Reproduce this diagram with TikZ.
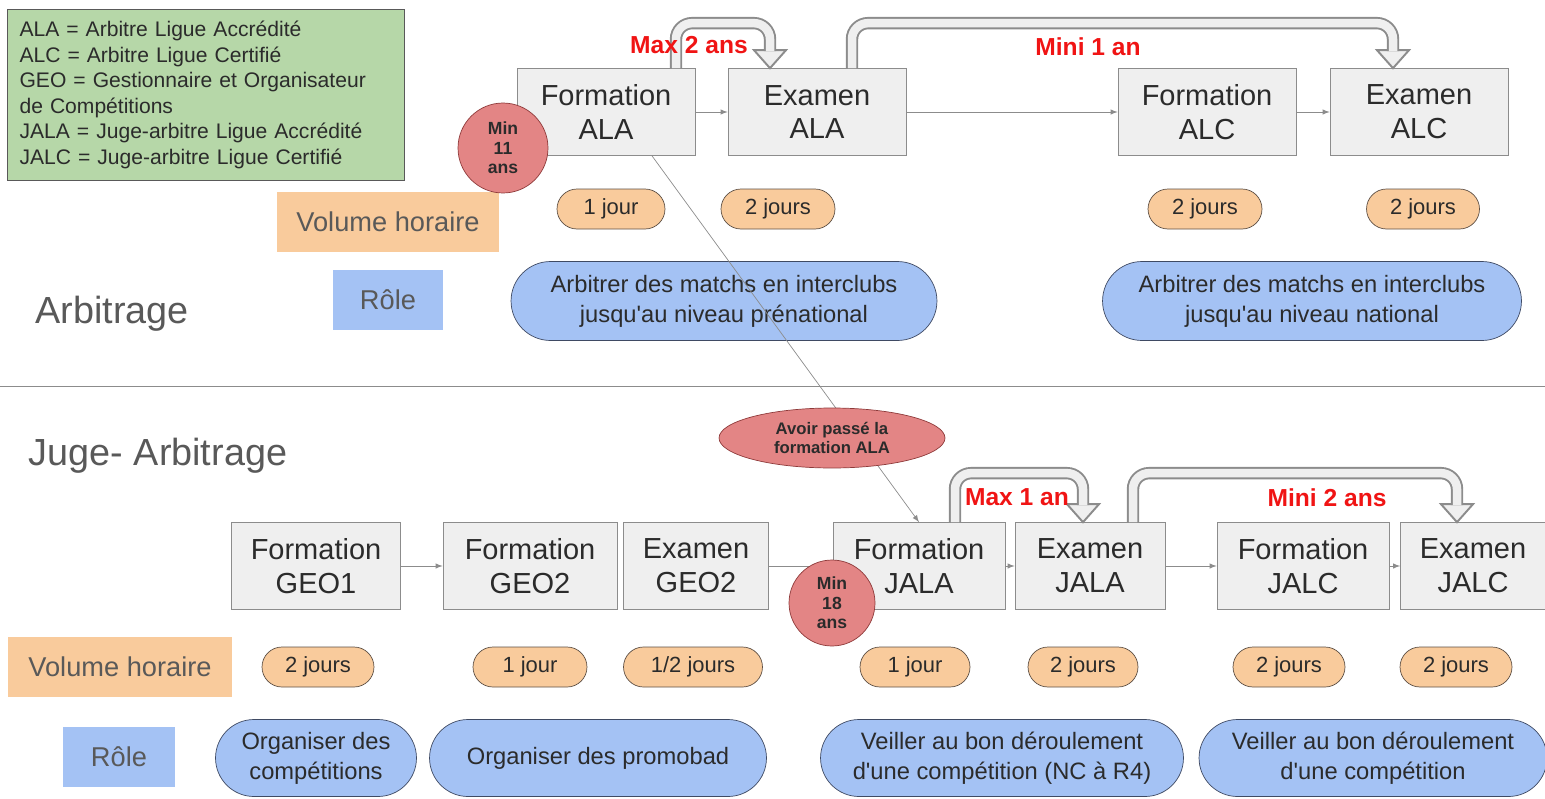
\documentclass[tikz,border=0pt]{standalone}
\usepackage{fontspec}
\setmainfont{Liberation Sans}
\usetikzlibrary{shapes.misc, shapes.geometric, calc}

\definecolor{boxgray}{HTML}{EFEFEF}
\definecolor{linegray}{HTML}{8C8C8C}
\definecolor{textdark}{HTML}{2B2B2B}
\definecolor{labelgray}{HTML}{595959}
\definecolor{keygreen}{HTML}{B6D7A8}
\definecolor{peach}{HTML}{F9CB9C}
\definecolor{peachline}{HTML}{5E5045}
\definecolor{roleblue}{HTML}{A4C2F4}
\definecolor{roleline}{HTML}{3F4A63}
\definecolor{agepink}{HTML}{E38585}
\definecolor{ageline}{HTML}{8E3A3A}
\definecolor{limitred}{HTML}{F01414}

\begin{document}
\begin{tikzpicture}[> = latex, x = 0.02cm, y = -0.02cm,
	stage/.style = {draw = linegray, fill = boxgray, align = center, inner sep = 0pt, minimum height = 1.74cm, text = textdark, font = \fontsize{16.5}{19.3}\selectfont},
	hours/.style = {rounded rectangle, draw = peachline, fill = peach, inner sep = 0pt, minimum width = 2.2cm, minimum height = 0.8cm, text = textdark, font = \fontsize{12.5}{15}\selectfont},
	role/.style = {rounded rectangle, draw = roleline, fill = roleblue, align = center, inner sep = 0pt, minimum height = 1.58cm, text = textdark, font = \fontsize{13.5}{17}\selectfont},
	tag/.style = {inner sep = 0pt, minimum height = 1.2cm, text = labelgray, font = \fontsize{15.5}{18}\selectfont},
	age/.style = {circle, draw = ageline, fill = agepink, align = center, inner sep = 0pt, minimum size = 1.76cm, text = textdark, font = \bfseries\fontsize{10}{11}\selectfont},
	limit/.style = {text = limitred, font = \bfseries\fontsize{14}{16}\selectfont},
	section/.style = {text = labelgray, font = \fontsize{21.5}{24}\selectfont},
	link/.style = {->, draw = linegray},
	hollow/.style = {draw = linegray, double = boxgray, line width = 1.1pt, double distance = 0.17cm, rounded corners = 0.32cm},
	hollowtip/.style = {draw = linegray, fill = boxgray, line width = 1.1pt, line join = miter}]

	\useasboundingbox (0, 0) rectangle (1545, 798);

	% Legend

	\node [draw = labelgray, fill = keygreen, minimum width = 7.94cm, minimum height = 3.4cm, text width = 7.46cm, align = left, inner sep = 0.24cm, text = textdark, font = \fontsize{12}{14.5}\selectfont] (key) at (206, 95)
		{ALA = Arbitre Ligue Accrédité\\ALC = Arbitre Ligue Certifié\\GEO = Gestionnaire et Organisateur\\de Compétitions\\JALA = Juge-arbitre Ligue Accrédité\\JALC = Juge-arbitre Ligue Certifié};

	% Arbitrage

	\node [section] (arb) at (112, 314) {Arbitrage};

	\node [stage, minimum width = 3.56cm] (fala) at (606, 112) {Formation\\ALA};
	\node [stage, minimum width = 3.56cm] (eala) at (817, 112) {Examen\\ALA};
	\node [stage, minimum width = 3.56cm] (falc) at (1207, 112) {Formation\\ALC};
	\node [stage, minimum width = 3.56cm] (ealc) at (1419, 112) {Examen\\ALC};

	\draw [link] (fala) -- (eala);
	\draw [link] (eala) -- (falc);
	\draw [link] (falc) -- (ealc);

	\node [tag, fill = peach, minimum width = 4.46cm] (vol1) at (388, 222) {Volume horaire};
	\node [hours, minimum width = 2.16cm] (hfala) at (611, 209) {1 jour};
	\node [hours, minimum width = 2.28cm] (heala) at (778, 209) {2 jours};
	\node [hours, minimum width = 2.28cm] (hfalc) at (1205, 209) {2 jours};
	\node [hours, minimum width = 2.26cm] (healc) at (1423, 209) {2 jours};

	\node [tag, fill = roleblue, minimum width = 2.22cm] (role1) at (388, 300) {Rôle};
	\node [role, minimum width = 8.52cm] (rala) at (724, 301) {Arbitrer des matchs en interclubs\\jusqu\textquotesingle au niveau prénational};
	\node [role, minimum width = 8.38cm] (ralc) at (1312, 301) {Arbitrer des matchs en interclubs\\jusqu\textquotesingle au niveau national};

	% Delays

	\draw [hollowtip] ($(eala.north) + (-47, 0)$) -- ++(-16, -18) -- ++(32, 0) -- cycle;
	\draw [hollow] ($(fala.north) + (70, 0)$) -- ++(0, -45) -| ($(eala.north) + (-47, -17)$);
	\draw [hollowtip] ($(ealc.north) + (-26, 0)$) -- ++(-16, -18) -- ++(32, 0) -- cycle;
	\draw [hollow] ($(eala.north) + (35, 0)$) -- ++(0, -45) -| ($(ealc.north) + (-26, -17)$);

	\node [limit] (max2) at (689, 45) {Max 2 ans};
	\node [limit] (mini1) at (1088, 47) {Mini 1 an};

	\node [age, minimum size = 1.8cm] (age11) at (503, 148) {Min\\11\\ans};

	% Separator

	\draw [linegray] (0, 386) -- (1545, 386);

	% Juge-arbitrage

	\node [section] (jarb) at (158, 456) {Juge- Arbitrage};

	\node [stage, minimum width = 3.38cm] (fgeo1) at (316, 566) {Formation\\GEO1};
	\node [stage, minimum width = 3.48cm] (fgeo2) at (530, 566) {Formation\\GEO2};
	\node [stage, minimum width = 2.9cm] (egeo2) at (696, 566) {Examen\\GEO2};
	\node [stage, minimum width = 3.44cm] (fjala) at (919, 566) {Formation\\JALA};
	\node [stage, minimum width = 3.0cm] (ejala) at (1090, 566) {Examen\\JALA};
	\node [stage, minimum width = 3.44cm] (fjalc) at (1303, 566) {Formation\\JALC};
	\node [stage, minimum width = 2.9cm] (ejalc) at (1473, 566) {Examen\\JALC};

	\draw [link] (fgeo1) -- (fgeo2);
	\draw [link] (egeo2) -- (fjala);
	\draw [link] (fjala) -- (ejala);
	\draw [link] (ejala) -- (fjalc);
	\draw [link] (fjalc) -- (ejalc);

	\draw [link] ($(fala.south) + (46, 0)$) -- (fjala.north);
	\node [ellipse, draw = ageline, fill = agepink, align = center, inner sep = 0pt, minimum width = 4.52cm, minimum height = 1.2cm, text = textdark, font = \bfseries\fontsize{9.5}{10.8}\selectfont] (prereq) at (832, 438) {Avoir passé la\\formation ALA};

	\draw [hollowtip] ($(ejala.north) + (-7, 0)$) -- ++(-16, -18) -- ++(32, 0) -- cycle;
	\draw [hollow] ($(fjala.north) + (36, 0)$) -- ++(0, -49) -| ($(ejala.north) + (-7, -17)$);
	\draw [hollowtip] ($(ejalc.north) + (-16, 0)$) -- ++(-16, -18) -- ++(32, 0) -- cycle;
	\draw [hollow] ($(ejala.north) + (43, 0)$) -- ++(0, -49) -| ($(ejalc.north) + (-16, -17)$);

	\node [limit] (max1) at (1017, 497) {Max 1 an};
	\node [limit] (mini2) at (1327, 498) {Mini 2 ans};

	\node [age, minimum size = 1.72cm] (age18) at (832, 603) {Min\\18\\ans};

	\node [tag, fill = peach, minimum width = 4.48cm] (vol2) at (120, 667) {Volume horaire};
	\node [hours, minimum width = 2.24cm] (hfgeo1) at (318, 667) {2 jours};
	\node [hours, minimum width = 2.28cm] (hfgeo2) at (530, 667) {1 jour};
	\node [hours, minimum width = 2.78cm] (hegeo2) at (693, 667) {1/2 jours};
	\node [hours, minimum width = 2.2cm] (hfjala) at (915, 667) {1 jour};
	\node [hours, minimum width = 2.2cm] (hejala) at (1083, 667) {2 jours};
	\node [hours, minimum width = 2.24cm] (hfjalc) at (1289, 667) {2 jours};
	\node [hours, minimum width = 2.24cm] (hejalc) at (1456, 667) {2 jours};

	\node [tag, fill = roleblue, minimum width = 2.24cm] (role2) at (119, 757) {Rôle};
	\node [role, minimum width = 4.02cm, minimum height = 1.54cm] (rgeo1) at (316, 758) {Organiser des\\compétitions};
	\node [role, minimum width = 6.74cm, minimum height = 1.54cm] (rgeo2) at (598, 758) {Organiser des promobad};
	\node [role, minimum width = 7.26cm, minimum height = 1.54cm] (rjala) at (1002, 758) {Veiller au bon déroulement\\d\textquotesingle une compétition (NC à R4)};
	\node [role, minimum width = 6.96cm, minimum height = 1.54cm] (rjalc) at (1373, 758) {Veiller au bon déroulement\\d\textquotesingle une compétition};

\end{tikzpicture}
\end{document}
